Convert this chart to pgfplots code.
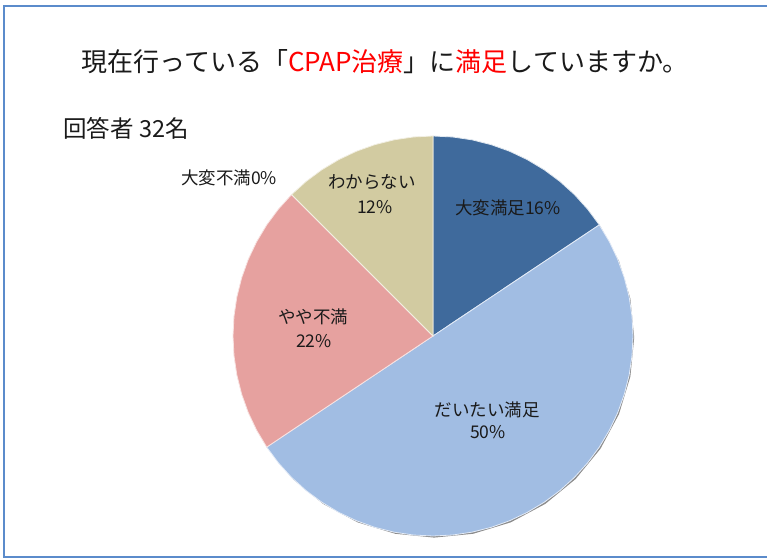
\documentclass[border=0pt]{standalone}
\usepackage{fontspec}
\usepackage{pgfplots}
\pgfplotsset{compat=1.18}
\newfontfamily\jp{Noto Sans CJK JP}
\setmainfont{Noto Sans CJK JP}
\definecolor{cA}{HTML}{3F6A9C}
\definecolor{cB}{HTML}{A1BDE3}
\definecolor{cC}{HTML}{E6A19F}
\definecolor{cD}{HTML}{D2CBA1}
\definecolor{frame}{HTML}{5B8BCB}
\definecolor{txt}{HTML}{1A1A1A}
\begin{document}
\begin{tikzpicture}
\begin{axis}[
  width=767bp, height=559bp, scale only axis,
  xmin=-433, xmax=334, ymin=-223, ymax=336,
  hide axis, clip=false,
]
\coordinate (bl) at (rel axis cs:0,0);
\coordinate (tr) at (rel axis cs:1,1);
% frame
\draw[frame, line width=1.6pt] (axis cs:340,330) -- (axis cs:-429,330) -- (axis cs:-429,-221) -- (axis cs:340,-221);
% shadow
\addplot[data cs=polar, draw=none, fill=black!45, xshift=1.2bp, yshift=-1.6bp] coordinates {
(0,200) (11.25,200) (22.5,200) (33.75,200) (45,200) (56.25,200) (67.5,200) (78.75,200) (90,200)
(101.25,200) (112.5,200) (123.75,200) (135,200) (146.25,200) (157.5,200) (168.75,200) (180,200)
(191.25,200) (202.5,200) (213.75,200) (225,200) (236.25,200) (247.5,200) (258.75,200) (270,200)
(281.25,200) (292.5,200) (303.75,200) (315,200) (326.25,200) (337.5,200) (348.75,200) (360,200)} -- cycle;
% 大変満足 5/32
\addplot[data cs=polar, fill=cA, draw=white!85!cA, line width=0.8pt] coordinates {
(90,0) (90,200) (84.375,200) (78.75,200) (73.125,200) (67.5,200) (61.875,200) (56.25,200) (50.625,200) (45,200) (39.375,200) (33.75,200) (33.75,0)} -- cycle;
% だいたい満足 16/32
\addplot[data cs=polar, fill=cB, draw=white!70!cB, line width=0.8pt] coordinates {
(33.75,0) (33.75,200) (28.125,200) (22.5,200) (16.875,200) (11.25,200) (5.625,200) (0,200)
(-5.625,200) (-11.25,200) (-16.875,200) (-22.5,200) (-28.125,200) (-33.75,200) (-39.375,200)
(-45,200) (-50.625,200) (-56.25,200) (-61.875,200) (-67.5,200) (-73.125,200) (-78.75,200)
(-84.375,200) (-90,200) (-95.625,200) (-101.25,200) (-106.875,200) (-112.5,200) (-118.125,200)
(-123.75,200) (-129.375,200) (-135,200) (-140.625,200) (-146.25,200) (-146.25,0)} -- cycle;
% やや不満 7/32
\addplot[data cs=polar, fill=cC, draw=white!70!cC, line width=0.8pt] coordinates {
(-146.25,0) (-146.25,200) (-151.875,200) (-157.5,200) (-163.125,200) (-168.75,200) (-174.375,200)
(-180,200) (-185.625,200) (-191.25,200) (-196.875,200) (-202.5,200) (-208.125,200) (-213.75,200)
(-219.375,200) (-225,200) (-225,0)} -- cycle;
% わからない 4/32
\addplot[data cs=polar, fill=cD, draw=white!70!cD, line width=0.8pt] coordinates {
(135,0) (135,200) (129.375,200) (123.75,200) (118.125,200) (112.5,200) (106.875,200) (101.25,200) (95.625,200) (90,200) (90,0)} -- cycle;
% texts
\node[font=\jp\fontsize{26bp}{30bp}\selectfont, text=txt, inner sep=0pt] at (axis cs:-48,274) {現在行っている「\textcolor{red}{CPAP治療}」に\textcolor{red}{満足}していますか。};
\node[font=\jp\fontsize{23.5bp}{27bp}\selectfont, text=txt, inner sep=0pt] at (axis cs:-307,208) {回答者 32名};
\node[font=\jp\fontsize{17.5bp}{20bp}\selectfont, text=txt, inner sep=0pt] at (axis cs:-204,158) {大変不満0\%};
\node[font=\jp\fontsize{17.5bp}{20bp}\selectfont, text=txt, inner sep=0pt] at (axis cs:-61,154) {わからない};
\node[font=\jp\fontsize{17.5bp}{20bp}\selectfont, text=txt, inner sep=0pt] at (axis cs:-58,129) {12\%};
\node[font=\jp\fontsize{17.5bp}{20bp}\selectfont, text=txt, inner sep=0pt] at (axis cs:75,128) {大変満足16\%};
\node[font=\jp\fontsize{17.5bp}{20bp}\selectfont, text=txt, inner sep=0pt] at (axis cs:-120,19) {やや不満};
\node[font=\jp\fontsize{17.5bp}{20bp}\selectfont, text=txt, inner sep=0pt] at (axis cs:-119,-5) {22\%};
\node[font=\jp\fontsize{17.5bp}{20bp}\selectfont, text=txt, inner sep=0pt] at (axis cs:54,-74) {だいたい満足};
\node[font=\jp\fontsize{17.5bp}{20bp}\selectfont, text=txt, inner sep=0pt] at (axis cs:55,-96) {50\%};
\end{axis}
\pgfresetboundingbox
\path[use as bounding box] (bl) rectangle (tr);
\end{tikzpicture}
\end{document}
